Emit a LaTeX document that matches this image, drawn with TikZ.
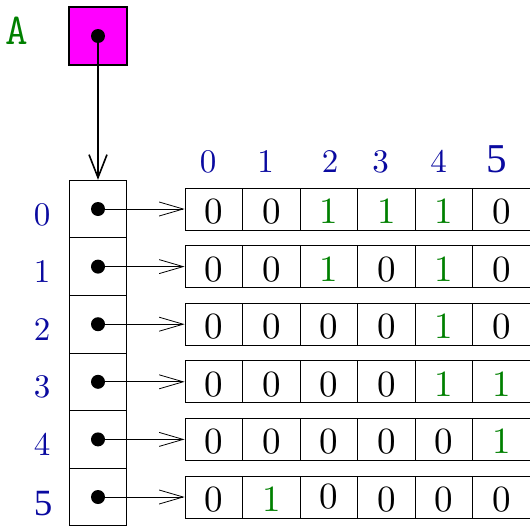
\documentclass[tikz,border=0pt]{standalone}
\usepackage{fontspec}
\newfontfamily\timesfont{Liberation Serif}
\newfontfamily\digitfont{lmroman10-regular.otf}
\usetikzlibrary{arrows.meta}
\definecolor{idxblue}{RGB}{10,10,160}
\definecolor{bitgreen}{RGB}{0,128,0}
\definecolor{varmagenta}{RGB}{255,0,255}
\begin{document}
\begin{tikzpicture}[x=1pt,y=-1pt,
  every node/.style={inner sep=0pt},
  varbox/.style={draw,line width=2pt,fill=varmagenta,minimum size=58pt},
  ptrcell/.style={draw,line width=0.8pt,minimum size=57.6pt},
  bitcell/.style={draw,line width=0.8pt,minimum width=57.5pt,minimum height=42pt,
    text height=29pt,font=\fontsize{37}{37}\digitfont},
  bit0/.style={text=black},
  bit1/.style={text=bitgreen},
  dot/.style={circle,fill=black,minimum size=14pt},
  idx/.style={anchor=base,text=idxblue,font=\fontsize{33}{33}\digitfont},
  bigidx/.style={idx,font=\fontsize{41}{41}\timesfont},
  link/.style={line width=0.8pt,-{Straight Barb[length=24pt,width=14pt]}},
  ref/.style={line width=1.6pt,-{Straight Barb[length=23pt,width=18pt]}}]
  \useasboundingbox (0,0) rectangle (530,525);
  \clip (0,0) rectangle (530,525);
  % the variable A
  \node[anchor=base,text=bitgreen,font=\fontsize{44}{44}\ttfamily] (Aname) at (16.5,44) {A};
  \node[varbox] (A) at (98,36) {};
  \node[dot] (Adot) at (A.center) {};
  % column indices
  \foreach \c/\x in {0/208,1/265.5,2/330,3/380.5,4/438.5}
    \node[idx] (col\c) at (\x,172) {\c};
  \node[bigidx] (col5) at (496.5,172) {5};
  % array of pointers and the rows
  \foreach \r/\vals in {0/{0,0,1,1,1,0},1/{0,0,1,0,1,0},2/{0,0,0,0,1,0},
                        3/{0,0,0,0,1,1},4/{0,0,0,0,0,1},5/{0,1,0,0,0,0}} {
    \node[ptrcell] (p\r) at (98,209+57.6*\r) {};
    \node[dot] (d\r) at (p\r.center) {};
    \foreach \v [count=\c from 0] in \vals {
      \ifnum\r\c=52 \def\lift{7pt}\else\def\lift{0pt}\fi
      \node[bitcell,bit\v,text depth=\lift] (b\r-\c) at (213.75+57.5*\c,209+57.6*\r) {\v};
    }
    \draw[link] (d\r.center) -- (b\r-0.west);
  }
  \foreach \r in {0,...,4}
    \node[idx] (row\r) at (42,225+57.6*\r) {\r};
  \node[bigidx,font=\fontsize{37}{37}\timesfont] (row5) at (43,515) {5};
  \draw[ref] (Adot.center) -- (p0.north);
\end{tikzpicture}
\end{document}
